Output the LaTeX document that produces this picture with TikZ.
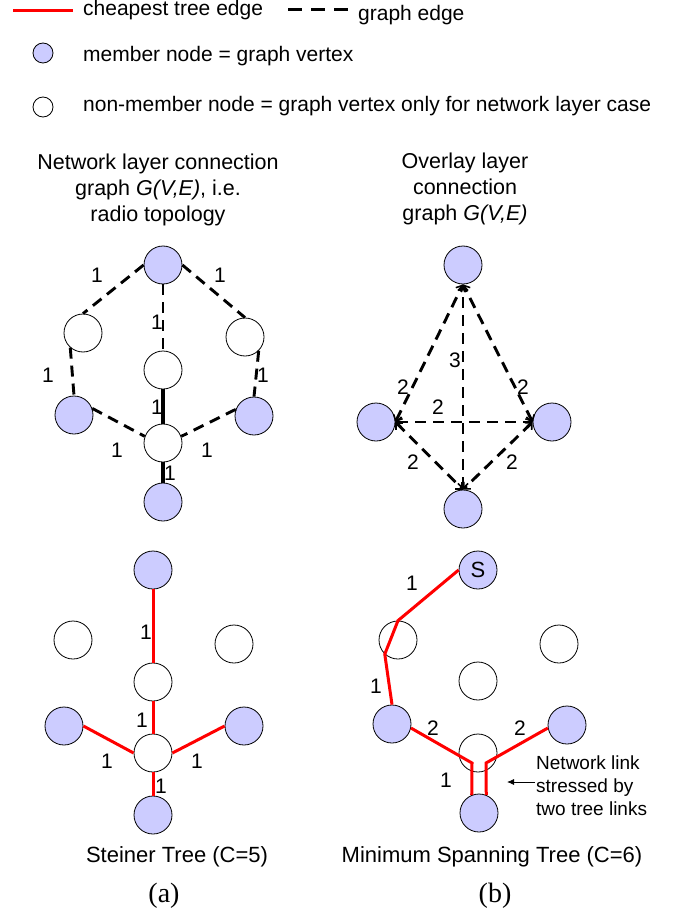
\documentclass[tikz,border=0pt]{standalone}
\usepackage{fontspec}
\setmainfont{Liberation Sans}
\newfontfamily\serifcap{Liberation Serif}
\usetikzlibrary{calc, positioning}
\usetikzlibrary{arrows.meta}

\definecolor{memberfill}{RGB}{204,204,255}
\definecolor{treered}{RGB}{255,0,0}

\tikzset{
  member/.style={circle, draw=black, line width=0.8pt, fill=memberfill,
    minimum size=38pt, inner sep=0pt, font=\fontsize{22}{22}\selectfont},
  nonmember/.style={member, fill=white},
  graphedge/.style={line width=2.9pt, dash pattern=on 11pt off 7pt},
  linkedge/.style={line width=3.4pt},
  treeedge/.style={line width=3pt, treered},
  overlayedge/.style={graphedge,
    {Straight Barb[length=5pt,width=10pt,line width=1.6pt]}-{Straight Barb[length=5pt,width=10pt,line width=1.6pt]}},
  weight/.style={inner sep=0pt, font=\fontsize{21}{21}\selectfont},
  txt/.style={inner sep=0pt, font=\fontsize{22}{26}\selectfont},
  legendtxt/.style={inner sep=0pt, font=\fontsize{21}{21}\selectfont},
  titletxt/.style={inner sep=0pt, align=center, font=\fontsize{21.5}{26}\selectfont}
}

\begin{document}
\begin{tikzpicture}[x=1pt, y=-1pt]
\useasboundingbox (0,0) rectangle (692,912);

% legend
\draw[treeedge] (13,11) -- (73,11);
\node[legendtxt, anchor=base west] (lgtree) at (83,16) {cheapest tree edge};
\draw[line width=3pt, dash pattern=on 14pt off 9pt] (288,10) -- (348,10);
\node[legendtxt, anchor=base west] (lggraph) at (358,21) {graph edge};
\node[member, minimum size=20pt] (lgmem) at (43,53) {};
\node[legendtxt, anchor=base west] (lgmemtxt) at (83,62) {member node = graph vertex};
\node[nonmember, minimum size=20pt] (lgnon) at (43,107) {};
\node[legendtxt, anchor=base west] (lgnontxt) at (83,112)
    {non-member node = graph vertex only for network layer case};

% (a) network layer graph
\node[titletxt, anchor=north] (titleA) at (158,154)
    {Network layer connection\\graph \textit{G(V,E)}, i.e.\\radio topology};
\node[member] (nTop) at (163,265) {};
\node[nonmember] (nLW) at (83,333) {};
\node[nonmember] (nRW) at (245,337) {};
\node[nonmember] (nCW) at (163,370) {};
\node[member] (nLM) at (74,415) {};
\node[member] (nRM) at (254,416) {};
\node[nonmember] (nBC) at (163,443) {};
\node[member] (nBot) at (163,502) {};

\draw[graphedge] (nTop.west) -- (nLW.north);
\draw[graphedge] (nTop.east) -- (nRW.north);
\draw[graphedge] (nTop.south) -- (nCW.north);
\draw[graphedge] (nLW.229) -- (nLM.north);
\draw[graphedge] (nRW.315) -- (nRM.north);
\draw[graphedge] (nLM.20) -- (nBC.160);
\draw[graphedge] (nRM.160) -- (nBC.20);
\draw[linkedge] (nCW.south) -- (nBC.north);
\draw[linkedge] (nBC.south) -- (nBot.north);

\node[weight] at (97,275) {1};
\node[weight] at (220,275) {1};
\node[weight] at (157,322) {1};
\node[weight] at (48,375) {1};
\node[weight] at (263,375) {1};
\node[weight] at (157,407) {1};
\node[weight] at (117,450) {1};
\node[weight] at (207,450) {1};
\node[weight] at (170,473) {1};

% (b) overlay graph
\node[titletxt, anchor=north] (titleB) at (465,153)
    {Overlay layer\\connection\\graph \textit{G(V,E)}};
\node[member] (oTop) at (463,265) {};
\node[member] (oL) at (376,422) {};
\node[member] (oR) at (552,422) {};
\node[member] (oBot) at (463,509) {};

\draw[overlayedge] (oL.east) -- (oTop.south);
\draw[overlayedge] (oR.west) -- (oTop.south);
\draw[overlayedge] (oBot.north) -- (oTop.south);
\draw[overlayedge] (oL.east) -- (oR.west);
\draw[overlayedge] (oL.east) -- (oBot.north);
\draw[overlayedge] (oR.west) -- (oBot.north);

\node[weight] at (455,360) {3};
\node[weight] at (403,387) {2};
\node[weight] at (523,387) {2};
\node[weight] at (438,407) {2};
\node[weight] at (413,462) {2};
\node[weight] at (512,462) {2};

% (a) Steiner tree
\node[member] (sTop) at (153,570) {};
\node[nonmember] (sLW) at (73,640) {};
\node[nonmember] (sRW) at (234,644) {};
\node[nonmember] (sCW) at (153,682) {};
\node[member] (sLM) at (64,726) {};
\node[member] (sRM) at (244,726) {};
\node[nonmember] (sBC) at (153,753) {};
\node[member] (sBot) at (153,815) {};

\draw[treeedge] (sTop.south) -- (sCW.north);
\draw[treeedge] (sCW.south) -- (sBC.north);
\draw[treeedge] (sLM.east) -- (sBC.west);
\draw[treeedge] (sRM.west) -- (sBC.east);
\draw[treeedge] (sBC.south) -- (sBot.north);

\node[weight] at (146,632) {1};
\node[weight] at (142,720) {1};
\node[weight] at (107,761) {1};
\node[weight] at (197,761) {1};
\node[weight] at (161,786) {1};

\node[txt, anchor=base] (capA) at (177,862) {Steiner Tree (C=5)};
\node[inner sep=0pt, font=\serifcap\fontsize{28}{28}\selectfont, anchor=base]
    (subA) at (164,902) {(a)};

% (b) minimum spanning tree
\node[member] (mS) at (478,570) {S};
\node[nonmember] (mLW) at (398,640) {};
\node[nonmember] (mRW) at (559,644) {};
\node[nonmember] (mCW) at (478,681) {};
\node[member] (mLM) at (392,724) {};
\node[member] (mRM) at (567,725) {};
\node[nonmember] (mBC) at (478,753) {};
\node[member] (mBot) at (479,813) {};

\coordinate (kinkL) at ($(mBC)+(-6,10)$);
\coordinate (kinkR) at ($(mBC)+(8,10)$);
\draw[treeedge, line join=miter] (mS.west) -- (mLW.north) -- (mLW.227) -- (mLM.north);
\draw[treeedge] (mLM.348) -- (kinkL) -- (mBot.112);
\draw[treeedge] (mRM.189) -- (kinkR) -- (mBot.68);

\node[weight] at (412,583) {1};
\node[weight] at (376,686) {1};
\node[weight] at (433,728) {2};
\node[weight] at (520,728) {2};
\node[weight] at (446,780) {1};

\node[inner sep=0pt, align=left, anchor=west, font=\fontsize{19}{23}\selectfont]
    (note) at (536,786) {Network link\\stressed by\\two tree links};
\coordinate (noteTail) at (535,782);
\coordinate (noteTip) at (507,782);
\draw[line width=0.8pt, -{Latex[length=7pt,width=6pt]}] (noteTail) -- (noteTip);

\node[txt, anchor=base] (capB) at (492,862) {Minimum Spanning Tree (C=6)};
\node[inner sep=0pt, font=\serifcap\fontsize{28}{28}\selectfont, anchor=base]
    (subB) at (495,902) {(b)};
\end{tikzpicture}
\end{document}
